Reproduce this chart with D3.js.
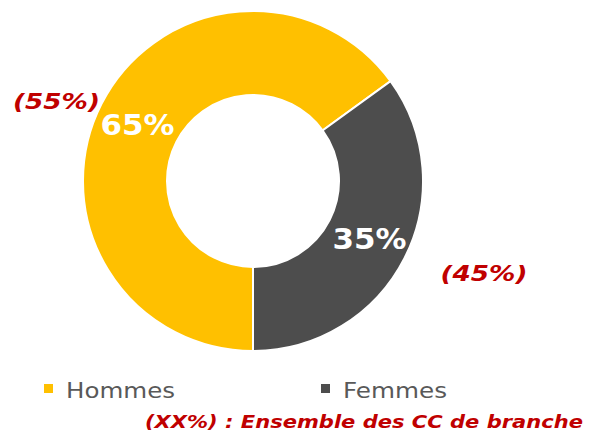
<!DOCTYPE html>
<html>
<head>
<meta charset="utf-8">
<script src="https://cdn.jsdelivr.net/npm/d3@7.9.0/dist/d3.min.js"></script>
<style>
  body { margin: 0; background: #fff; }
  svg { display: block; font-family: "DejaVu Sans", Verdana, sans-serif; }
</style>
</head>
<body>
<svg width="589" height="433"></svg>
<script>
// data
const categories = ['Hommes', 'Femmes'];
const values = [65, 35];
const branchValues = [55, 45];
const colorsList = ['#FFC000', '#4D4D4D'];
const footnote = '(XX%) : Ensemble des CC de branche';

const svg = d3.select('svg');
const cx = 253, cy = 181;
const outerR = 170, innerR = 86;

let color = d3.scaleOrdinal().domain(categories).range(colorsList);

let pie = d3.pie().sort(null).value((d) => d.value)
  .startAngle(Math.PI).endAngle(3 * Math.PI);
let data = categories.map((c, i) => ({ label: c, value: values[i], branch: branchValues[i] }));
let arcData = pie(data);
let arc = d3.arc().innerRadius(innerR).outerRadius(outerR);

let g = svg.append('g').attr('transform', `translate(${cx},${cy})`);

g.selectAll('path')
  .data(arcData)
  .join('path')
  .attr('d', arc)
  .attr('fill', (d) => color(d.data.label))
  .attr('stroke', '#fff')
  .attr('stroke-width', 2);

// value labels inside the ring (baseline positions)
let labelPos = [[137.5, 135], [369.5, 249]];
svg.selectAll('text.val')
  .data(arcData)
  .join('text')
  .attr('class', 'val')
  .attr('x', (d, i) => labelPos[i][0])
  .attr('y', (d, i) => labelPos[i][1])
  .attr('text-anchor', 'middle')
  .attr('fill', '#fff')
  .attr('font-weight', 'bold')
  .attr('font-size', 29)
  .attr('textLength', 74)
  .attr('lengthAdjust', 'spacingAndGlyphs')
  .text((d) => d.data.value + '%');

// branch values in red outside
let branchPos = [[56.5, 109], [484, 281]];
svg.selectAll('text.branch')
  .data(data)
  .join('text')
  .attr('class', 'branch')
  .attr('x', (d, i) => branchPos[i][0])
  .attr('y', (d, i) => branchPos[i][1])
  .attr('text-anchor', 'middle')
  .attr('fill', '#C00000')
  .attr('font-weight', 'bold')
  .attr('font-style', 'italic')
  .attr('font-size', 21)
  .attr('textLength', 87)
  .attr('lengthAdjust', 'spacingAndGlyphs')
  .text((d) => `(${d.branch}%)`);

// legend
let legendX = [44, 321];
let legendW = [109, 104];
let legend = svg.selectAll('g.legend')
  .data(categories)
  .join('g')
  .attr('class', 'legend')
  .attr('transform', (d, i) => `translate(${legendX[i]},0)`);
legend.append('rect')
  .attr('x', 0).attr('y', 384)
  .attr('width', 9).attr('height', 9)
  .attr('fill', (d) => color(d));
legend.append('text')
  .attr('x', 22)
  .attr('y', 398)
  .attr('fill', '#595959')
  .attr('font-size', 21)
  .attr('textLength', (d, i) => legendW[i])
  .attr('lengthAdjust', 'spacingAndGlyphs')
  .text((d) => d);

svg.append('text')
  .attr('x', 145)
  .attr('y', 428)
  .attr('fill', '#C00000')
  .attr('font-weight', 'bold')
  .attr('font-style', 'italic')
  .attr('font-size', 18)
  .attr('textLength', 438)
  .attr('lengthAdjust', 'spacingAndGlyphs')
  .text(footnote);
</script>
</body>
</html>
